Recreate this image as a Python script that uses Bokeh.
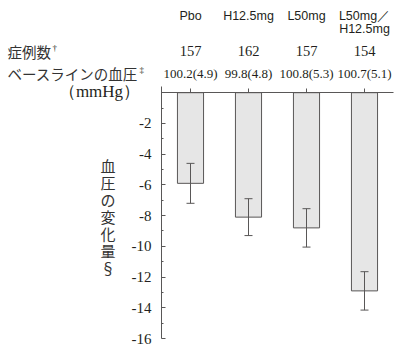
from bokeh.plotting import figure
from bokeh.models import (ColumnDataSource, Range1d, FixedTicker, LabelSet, Label,
                          LinearAxis, Whisker, TeeHead)
from bokeh.core.properties import value
from bokeh.embed import file_html
from bokeh.resources import INLINE

# ---- data ----
groups_line1 = ["Pbo", "H12.5mg", "L50mg", "L50mg／"]
groups_line2 = ["", "", "", "H12.5mg"]
n_patients = ["157", "162", "157", "154"]
baseline_bp = ["100.2(4.9)", "99.8(4.8)", "100.8(5.3)", "100.7(5.1)"]
bp_change = [-5.9, -8.1, -8.8, -12.9]
bp_se = [1.3, 1.2, 1.25, 1.25]
y_major = [-16, -14, -12, -10, -8, -6, -4, -2]
y_minor = [-15, -13, -11, -9, -7, -5, -3, -1]
row_labels = ["症例数", "ベースラインの血圧"]
row_marks = ["†", "‡"]
unit_label = "（mmHg）"
y_title = "血圧の変化量§"

# ---- layout (pixel geometry of the plotting area) ----
W, H = 400, 352
AX_L, AX_R = 161, 393          # x = -0.5 .. 3.5
Y0_PX, Y16_PX = 92.2, 338.0     # y = 0 .. -16
AX_TOP_PX = 86
AX = "#595757"
TXT = "#231f20"
JPTXT = "#333333"
JP = "Noto Sans CJK JP"
SERIF = "Liberation Serif"
SANS = "Liberation Sans"

kx = 4.0 / (AX_R - AX_L)
ky = 16.0 / (Y16_PX - Y0_PX)


def sx(px):
    return -0.5 + (px - AX_L) * kx


def sy(py):
    return -(py - Y0_PX) * ky


XR = (sx(0), sx(W))
YR = (sy(H), sy(0))

xs = list(range(len(bp_change)))

p = figure(width=W, height=H, x_range=Range1d(*XR), y_range=Range1d(*YR),
           x_axis_location=None, y_axis_location=None,
           toolbar_location=None, output_backend="svg",
           min_border=0)
p.outline_line_color = None
p.grid.visible = False
p.background_fill_color = "white"
p.border_fill_color = "white"

# y axis at x = -0.5
ya = LinearAxis(fixed_location=-0.5, bounds=(-16, sy(AX_TOP_PX)),
                ticker=FixedTicker(ticks=y_major, minor_ticks=y_minor))
ya.major_tick_in = 4
ya.major_tick_out = 0
ya.minor_tick_in = 2
ya.minor_tick_out = 0
ya.axis_line_color = AX
ya.major_tick_line_color = AX
ya.minor_tick_line_color = AX
ya.major_label_text_font = SERIF
ya.major_label_text_font_size = "15px"
ya.major_label_text_color = TXT
ya.major_label_standoff = 10
ya.major_label_overrides = {t: str(t) for t in y_major}
p.add_layout(ya, "left")

# zero line with category ticks
xa = LinearAxis(fixed_location=0, bounds=(-0.5, 3.5),
                ticker=FixedTicker(ticks=xs, minor_ticks=[]))
xa.major_tick_in = 0
xa.major_tick_out = 4
xa.axis_line_color = AX
xa.major_tick_line_color = AX
xa.major_label_text_font_size = "0px"
xa.major_label_overrides = {t: "" for t in xs}
p.add_layout(xa, "above")

# bars
src = ColumnDataSource(dict(
    x=xs, top=[0] * len(xs), bottom=bp_change,
    upper=[m + e for m, e in zip(bp_change, bp_se)],
    lower=[m - e for m, e in zip(bp_change, bp_se)],
))
p.vbar(x="x", top="top", bottom="bottom", width=0.45, source=src,
       fill_color="#e6e6e6", line_color=AX, line_width=1)

w = Whisker(base="x", upper="upper", lower="lower", source=src,
            line_color=AX, line_width=1, level="overlay",
            upper_head=TeeHead(size=8, line_color=AX, line_width=1),
            lower_head=TeeHead(size=8, line_color=AX, line_width=1))
p.add_layout(w)

# header rows
hdr = ColumnDataSource(dict(
    x=xs,
    g1=groups_line1, g2=groups_line2, n=n_patients, b=baseline_bp,
    y1=[sy(15)] * len(xs), y2=[sy(28)] * len(xs),
    yn=[sy(50)] * len(xs), yb=[sy(73)] * len(xs),
))
common = dict(source=hdr, x="x", text_align="center", text_baseline="middle",
              text_color=TXT)
p.add_layout(LabelSet(y="y1", text="g1", text_font=value(SANS),
                      text_font_size=value("12.5px"), **common))
p.add_layout(LabelSet(y="y2", text="g2", text_font=value(SANS),
                      text_font_size=value("12.5px"), **common))
p.add_layout(LabelSet(y="yn", text="n", text_font=value(SERIF),
                      text_font_size=value("14.5px"), **common))
p.add_layout(LabelSet(y="yb", text="b", text_font=value(SERIF),
                      text_font_size=value("13px"), **common))

# left row labels
row_y = [51, 73]
row_w = [43.5, 130.5]
for lab, mark, ry, rw in zip(row_labels, row_marks, row_y, row_w):
    p.add_layout(Label(x=sx(7), y=sy(ry), text=lab, text_font=JP, text_font_size="14.5px",
                       text_align="left", text_baseline="middle", text_color=JPTXT))
    p.add_layout(Label(x=sx(7 + rw + 1.5), y=sy(ry - 4), text=mark, text_font=SERIF,
                       text_font_size="9px", text_align="left", text_baseline="middle",
                       text_color=TXT))
p.add_layout(Label(x=sx(99), y=sy(91), text=unit_label, text_font=SERIF,
                   text_font_size="17px", text_align="center", text_baseline="middle",
                   text_color=TXT))

# vertical y title, one character per row
chars = list(y_title)
ttl = ColumnDataSource(dict(
    x=[sx(107.5)] * len(chars),
    y=[sy(165 + 17 * i) for i in range(len(chars))],
    t=chars,
))
p.add_layout(LabelSet(source=ttl, x="x", y="y", text="t", text_font=value(JP),
                      text_font_size=value("15px"), text_align="center",
                      text_baseline="middle", text_color=JPTXT))

open("out.html", "w").write(file_html(p, INLINE))
